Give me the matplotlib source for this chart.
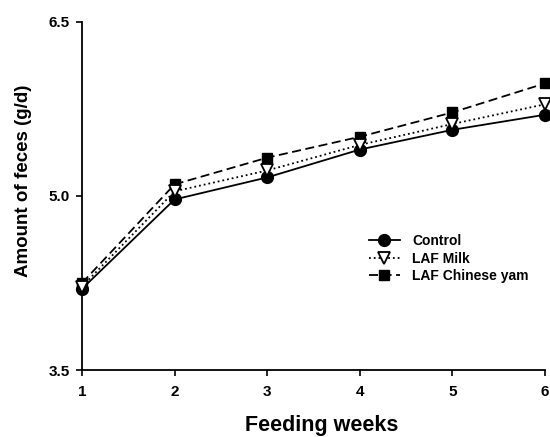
import matplotlib
matplotlib.use("Agg")
import matplotlib.pyplot as plt

weeks = [1, 2, 3, 4, 5, 6]
control = [4.20, 4.97, 5.16, 5.40, 5.57, 5.70]
laf_milk = [4.22, 5.04, 5.22, 5.44, 5.62, 5.79]
laf_yam = [4.25, 5.10, 5.33, 5.51, 5.72, 5.97]
yticks = [3.5, 5.0, 6.5]

plt.rcParams['font.family'] = ['Liberation Sans', 'DejaVu Sans']
plt.rcParams['font.weight'] = 'bold'

fig = plt.figure(figsize=(5.5, 4.37), dpi=100)
ax = fig.add_axes([0.149, 0.153, 0.842, 0.797])

ax.plot(weeks, control, color='black', linestyle='-', linewidth=1.3,
        marker='o', markersize=8.5, markerfacecolor='black', label='Control', zorder=3)
ax.plot(weeks, laf_milk, color='black', linestyle=':', linewidth=1.3,
        marker='v', markersize=8, markerfacecolor='white', markeredgewidth=1.3,
        label='LAF Milk', zorder=4)
ax.plot(weeks, laf_yam, color='black', linestyle=(0, (5, 2.5)), linewidth=1.3,
        marker='s', markersize=7.5, markerfacecolor='black', label='LAF Chinese yam', zorder=2)

ax.set_xlim(1, 6)
ax.set_ylim(3.5, 6.5)
ax.set_xticks(weeks)
ax.set_yticks(yticks)
ax.set_yticklabels(['3.5', '5.0', '6.5'])
ax.tick_params(axis='both', labelsize=11, width=1.2, length=4, direction='out')
ax.tick_params(axis='x', pad=7)
ax.tick_params(axis='y', pad=5)
for lab in ax.get_xticklabels() + ax.get_yticklabels():
    lab.set_fontweight('bold')
ax.spines['top'].set_visible(False)
ax.spines['right'].set_visible(False)
ax.spines['left'].set_linewidth(1.3)
ax.spines['bottom'].set_linewidth(1.3)
for s in ax.spines.values():
    s.set_clip_on(False)

ax.set_xlabel('Feeding weeks', fontsize=15.5, fontweight='bold')
ax.xaxis.set_label_coords(0.518, -0.13)
ax.set_ylabel('Amount of feces (g/d)', fontsize=13.5, fontweight='bold')
ax.yaxis.set_label_coords(-0.108, 0.545)

leg = ax.legend(loc='upper left', bbox_to_anchor=(0.62, 0.39), frameon=False,
                fontsize=10, handlelength=2.2, handletextpad=0.9, labelspacing=0.25,
                borderaxespad=0, borderpad=0)
for t in leg.get_texts():
    t.set_fontweight('bold')

for line in ax.lines:
    line.set_clip_on(False)

fig.savefig('out.png', dpi=100)
